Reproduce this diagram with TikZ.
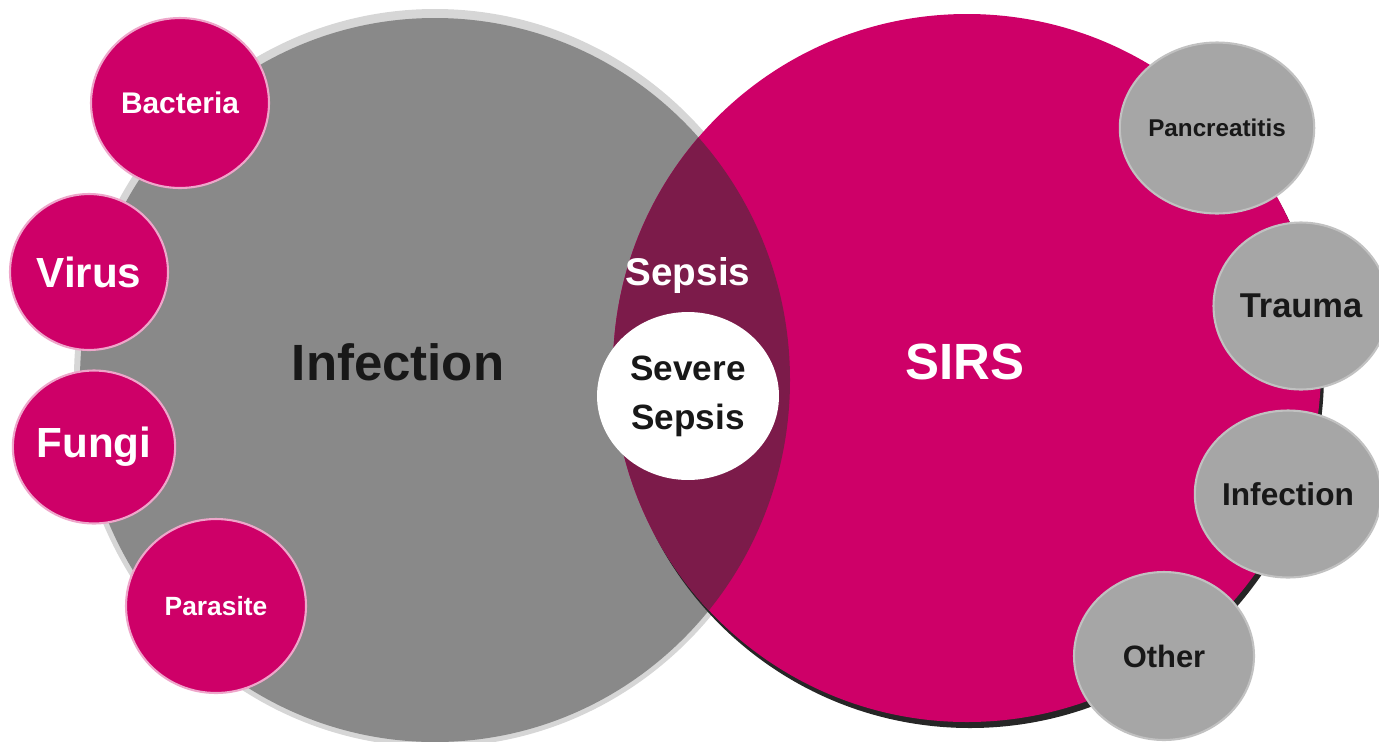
\documentclass[tikz,border=0pt]{standalone}
\usepackage{fontspec}
\setmainfont{Liberation Sans}
\usetikzlibrary{shapes.geometric}
\definecolor{cmag}{RGB}{206,0,104}
\definecolor{cwine}{RGB}{124,27,74}
\definecolor{cgrey}{RGB}{137,137,137}
\definecolor{clgrey}{RGB}{166,166,166}
\definecolor{cink}{RGB}{24,24,24}
\tikzset{venn/.style={x=0.02cm,y=-0.02cm},
  cause/.style 2 args={ellipse,inner sep=0pt,minimum width=#1,minimum height=#2,line width=1.2pt},
  magcause/.style 2 args={cause={#1}{#2},fill=cmag,draw=cmag!35,text=white},
  greycause/.style 2 args={cause={#1}{#2},fill=clgrey,draw=clgrey!70,text=cink}}

\begin{document}
\begin{tikzpicture}[venn]
    \useasboundingbox (0,0) rectangle (1379,741);
    \fill[cgrey!35] (435,378) ellipse [x radius=361,y radius=369];    % soft rim
    \fill[cgrey]    (435,380) ellipse [x radius=355,y radius=362];    % infection
    \fill[black!85] (970,374) circle (354);                           % shadow
    \fill[cmag]     (967,368) circle (354);                           % sirs
    \begin{scope}
      \clip (435,380) ellipse [x radius=355,y radius=362];
      \fill[cwine] (967,368) circle (354);                            % overlap
    \end{scope}
    \node[cink,font=\bfseries\fontsize{29}{33}\selectfont] (infection) at (398,362) {Infection};
    \node[white,font=\bfseries\fontsize{29}{33}\selectfont] (sirs) at (965,362) {SIRS};
    \node[white,font=\bfseries\fontsize{22}{26}\selectfont] (sepsis) at (688,275) {Sepsis};
    \node[ellipse,fill=white,inner sep=0pt,minimum width=3.64cm,minimum height=3.36cm,
          align=center,text=cink,font=\bfseries\fontsize{20}{28}\selectfont] (severe) at (688,396) {Severe\\Sepsis};
    \node[magcause={3.56cm}{3.4cm},font=\bfseries\fontsize{17}{19}\selectfont] (bacteria) at (180,103) {Bacteria};
    \node[magcause={3.16cm}{3.12cm},font=\bfseries\fontsize{24}{26}\selectfont] (virus) at (89,272) {Virus};
    \node[magcause={3.12cm}{3.06cm},font=\bfseries\fontsize{24}{26}\selectfont] (fungi) at (94,447) {Fungi};
    \node[magcause={3.6cm}{3.48cm},font=\bfseries\fontsize{15}{17}\selectfont] (parasite) at (216,606) {Parasite};
    \node[greycause={3.68cm}{3.42cm},font=\bfseries\fontsize{13.8}{16}\selectfont] (pancreatitis) at (1217,128) {Pancreatitis};
    \node[greycause={3.5cm}{3.34cm},font=\bfseries\fontsize{19.6}{22}\selectfont] (trauma) at (1301,306) {Trauma};
    \node[greycause={3.56cm}{3.34cm},font=\bfseries\fontsize{18}{20}\selectfont] (infect) at (1288,494) {Infection};
    \node[greycause={3.6cm}{3.36cm},font=\bfseries\fontsize{17.6}{20}\selectfont] (other) at (1164,656) {Other};
  \end{tikzpicture}
\end{document}
